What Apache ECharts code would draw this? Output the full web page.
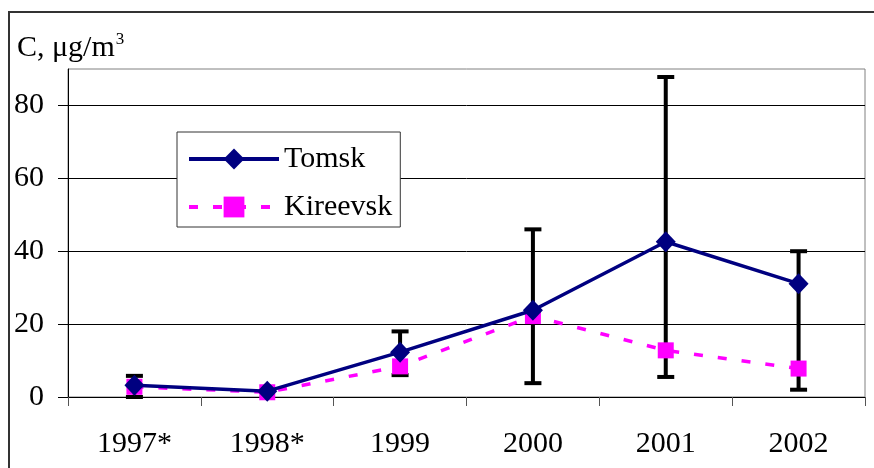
<!DOCTYPE html>
<html>
<head>
<meta charset="utf-8">
<script src="https://cdn.jsdelivr.net/npm/echarts@6/dist/echarts.min.js"></script>
<style>
  html, body { margin: 0; padding: 0; background: #fff; }
  #chart { width: 874px; height: 468px; }
</style>
</head>
<body>
<div id="chart"></div>
<script>
// C, µg/m3 by year, two towns, with error bars

const years = ['1997*', '1998*', '1999', '2000', '2001', '2002'];
const tomsk = [3.2, 1.6, 12.3, 23.8, 42.6, 31.1];
const kireevsk = [2.8, 1.3, 8.4, 22.2, 12.8, 7.8];
// error bar range per year (null = not visible)
const errLow = [0, null, 6.0, 3.8, 5.5, 2.0];
const errHigh = [5.8, null, 18.0, 46.0, 87.8, 40.0];
const yTicks = [0, 20, 40, 60, 80];

const serif = '"Times New Roman", "Liberation Serif", serif';

const errData = years
  .map((y, i) => [i, errLow[i], errHigh[i]])
  .filter(d => d[1] != null);

const chart = echarts.init(document.getElementById('chart'));
chart.setOption({
  animation: false,
  backgroundColor: '#fff',
  textStyle: { fontFamily: serif },
  graphic: [{
    type: 'rect',
    shape: { x: 9, y: 12, width: 1000, height: 600 },
    style: { fill: 'none', stroke: '#333', lineWidth: 2 },
    silent: true, z: -10
  }],
  title: {
    text: '{a|C, μg/m}{s|3}',
    left: 17, top: 31, padding: 0,
    textStyle: {
      fontWeight: 'normal',
      rich: {
        a: { fontFamily: serif, fontSize: 30, fontWeight: 'normal', color: '#000', lineHeight: 32, verticalAlign: 'bottom' },
        s: { fontFamily: serif, fontSize: 17, fontWeight: 'normal', color: '#000', verticalAlign: 'top', padding: [0, 0, 0, 1] }
      }
    }
  },
  grid: {
    left: 68, right: 9, top: 69, bottom: 71,
    show: true, borderColor: '#808080', borderWidth: 1, backgroundColor: 'transparent'
  },
  legend: {
    left: 177, top: 132, orient: 'vertical',
    padding: [12, 8, 5, 10],
    itemWidth: 90, itemHeight: 26, itemGap: 18,
    backgroundColor: '#fff', borderColor: '#333', borderWidth: 1, borderRadius: 0,
    lineStyle: { width: 4 },
    textStyle: { fontFamily: serif, fontSize: 30, color: '#000', lineHeight: 30 },
    data: ['Tomsk', 'Kireevsk']
  },
  xAxis: {
    type: 'category', data: years, boundaryGap: true,
    axisLine: { lineStyle: { color: '#000', width: 1 } },
    axisTick: { show: true, length: 9, lineStyle: { color: '#555' } },
    axisLabel: { fontFamily: serif, fontSize: 30, color: '#000', margin: 32 },
    splitLine: { show: false }
  },
  yAxis: {
    type: 'value', min: 0, max: 90, interval: 20,
    axisLine: { show: true, lineStyle: { color: '#000', width: 1 } },
    axisTick: { show: true, length: 10, customValues: yTicks, lineStyle: { color: '#000' } },
    axisLabel: { fontFamily: serif, fontSize: 30, color: '#000', margin: 24, customValues: yTicks },
    splitLine: { show: true, lineStyle: { color: ['#000', '#000', '#000', '#000', '#000', '#808080'], width: 1 } }
  },
  series: [
    {
      name: 'err', type: 'custom', z: 1,
      data: errData,
      encode: { x: 0, y: [1, 2] },
      renderItem: function (params, api) {
        const x = api.value(0);
        const lo = api.coord([x, api.value(1)]);
        const hi = api.coord([x, api.value(2)]);
        const hw = 8.5;
        const st = { stroke: '#000', lineWidth: 4 };
        return {
          type: 'group',
          children: [
            { type: 'line', shape: { x1: lo[0], y1: lo[1], x2: hi[0], y2: hi[1] }, style: st },
            { type: 'line', shape: { x1: lo[0] - hw, y1: lo[1], x2: lo[0] + hw, y2: lo[1] }, style: st },
            { type: 'line', shape: { x1: hi[0] - hw, y1: hi[1], x2: hi[0] + hw, y2: hi[1] }, style: st }
          ]
        };
      }
    },
    {
      name: 'Kireevsk', type: 'line', z: 3,
      data: kireevsk,
      symbol: 'rect', symbolSize: 16,
      itemStyle: { color: '#FF00FF' },
      lineStyle: { color: '#FF00FF', width: 3.5, type: [9, 15] }
    },
    {
      name: 'Tomsk', type: 'line', z: 4,
      data: tomsk,
      symbol: 'diamond', symbolSize: [20, 21],
      itemStyle: { color: '#000080' },
      lineStyle: { color: '#000080', width: 3.5 }
    }
  ]
});
</script>
</body>
</html>
